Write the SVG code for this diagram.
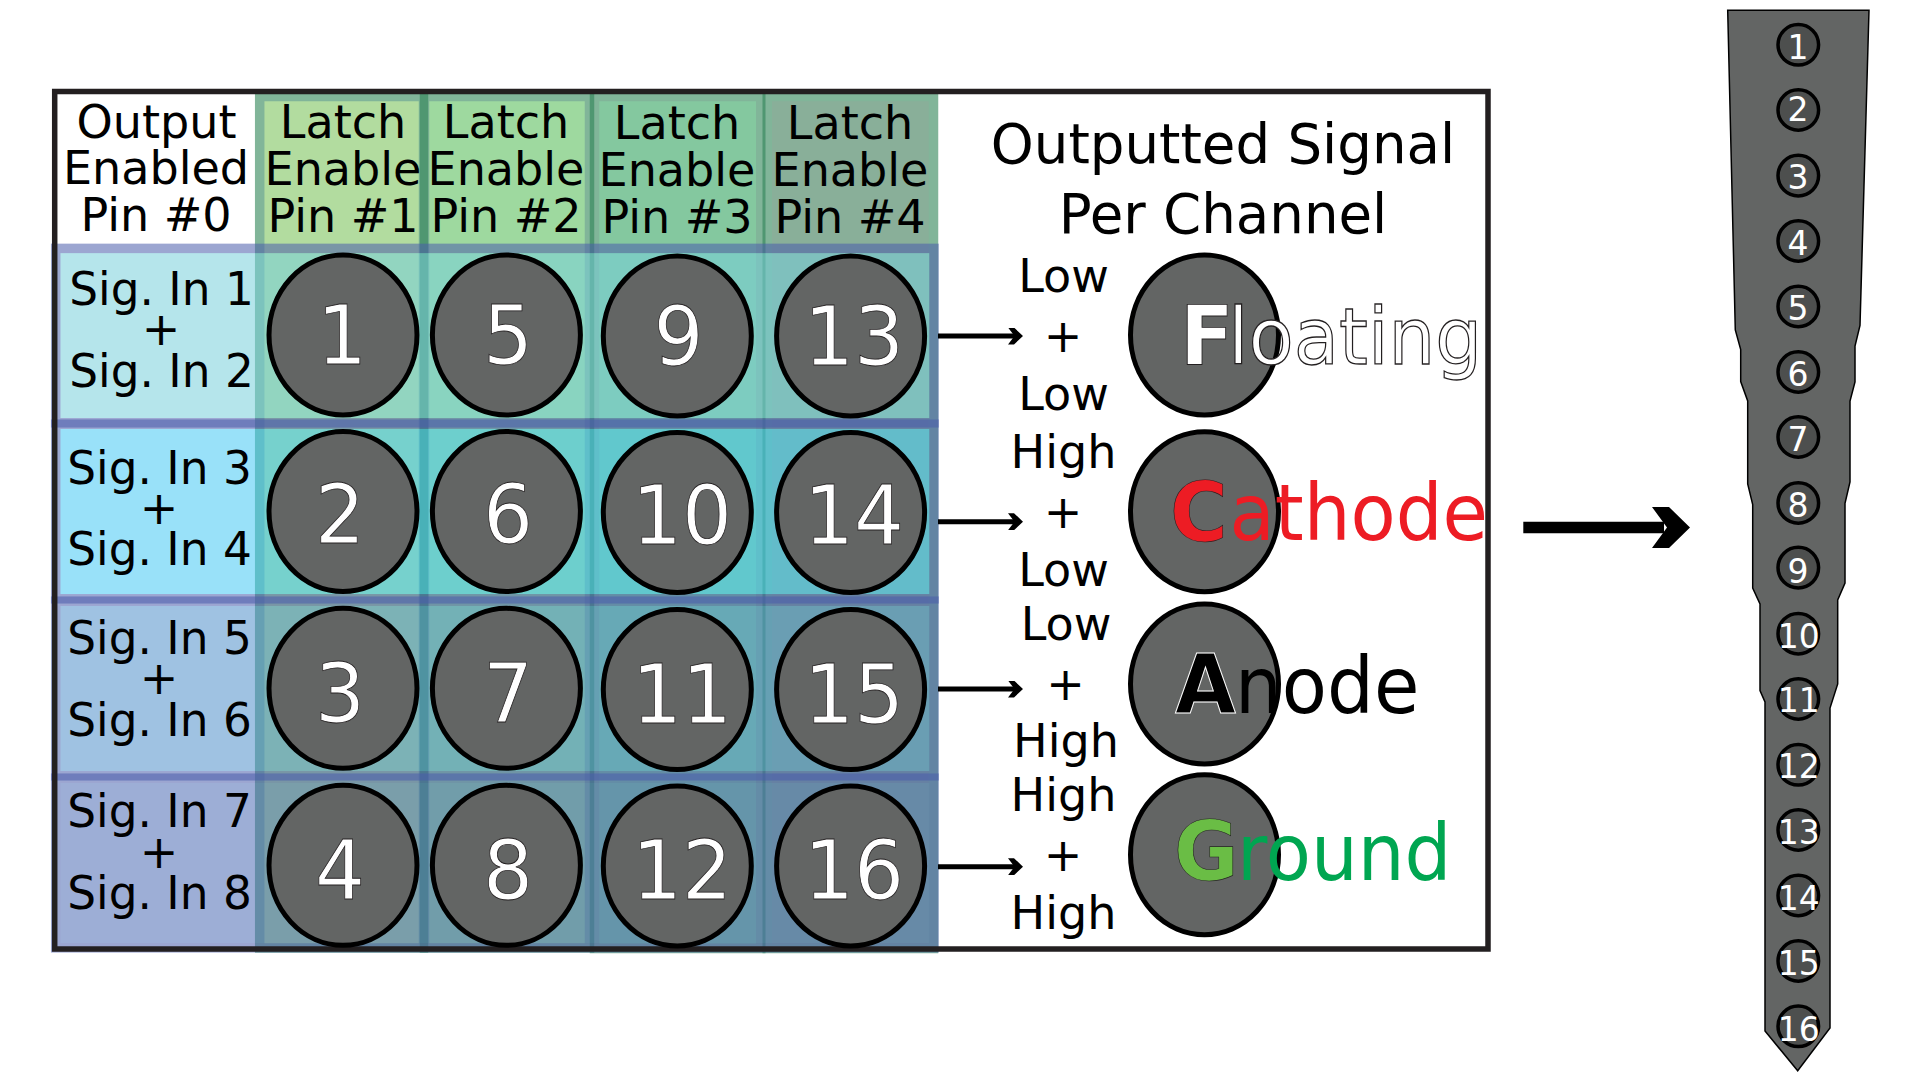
<svg xmlns="http://www.w3.org/2000/svg" width="1920" height="1080" viewBox="0 0 1920 1080">
<style>
text{font-family:"DejaVu Sans",sans-serif;text-anchor:middle;fill:#000}
.h{font-size:47px}
.t{font-size:54.6px}
.col{stroke:#2f8457;stroke-width:9.5;opacity:.6}
.row{stroke:#4a5cac;stroke-width:9.5;opacity:.54}
.e{fill:#636564;stroke:#000;stroke-width:5}
.n{font-size:82px;fill:#fff;stroke:#231f20;stroke-width:.8}
.pin{fill:#4d4f4e;stroke:#000;stroke-width:3.5}
.pn{font-size:33px;fill:#fff}
.b{font-size:82px;font-weight:bold;text-anchor:start}
.r{font-size:79px;text-anchor:start}
.ln{stroke:#000;fill:none}
</style>
<defs>
<marker id="ah" markerUnits="userSpaceOnUse" markerWidth="15" markerHeight="17" viewBox="0 0 15 17" refX="10" refY="8.5" orient="auto"><path d="M0,0H6L15,8.5L6,17H0L6.5,8.5Z" fill="#000"/></marker>
<marker id="bh" markerUnits="userSpaceOnUse" markerWidth="38" markerHeight="41" viewBox="0 0 38 41" refX="12" refY="20.5" orient="auto"><path d="M0,0H17L38,20.5L17,41H0L15,20.5Z" fill="#000"/></marker>
</defs>
<rect width="1920" height="1080" fill="#fff"/>
<rect x="54.7" y="91.5" width="1433.3" height="857.5" fill="#fff"/>
<g id="columns">
<rect class="col" x="259.7" y="96.5" width="163.8" height="851.5" fill="#80c661"/>
<rect class="col" x="424.5" y="96.5" width="165" height="851.5" fill="#5fc061"/>
<rect class="col" x="594.5" y="96.5" width="166.25" height="852" fill="#34a561"/>
<rect class="col" x="767.25" y="96.5" width="166.25" height="852" fill="#3c7b57"/>
</g>
<g id="rows">
<rect class="row" x="55.7" y="248.4" width="878.3" height="174.4" fill="#78d0dc"/>
<rect class="row" x="55.7" y="424.2" width="878.3" height="174.6" fill="#44c8f4"/>
<rect class="row" x="55.7" y="601.2" width="878.3" height="174.6" fill="#5090ca"/>
<rect class="row" x="55.7" y="778.2" width="878.3" height="169.6" fill="#4c6bb4"/>
</g>
<rect id="frame" x="54.7" y="91.5" width="1433.3" height="857.5" fill="none" stroke="#231f20" stroke-width="5.5"/>
<g id="header-oe"><text class="h" transform="translate(156.5,138) scale(.98,1)">Output</text><text class="h" transform="translate(156,184) scale(.98,1)">Enabled</text><text class="h" transform="translate(156,231) scale(.98,1)">Pin #0</text></g>
<g id="header-le1"><text class="h" transform="translate(343,138) scale(.98,1)">Latch</text><text class="h" transform="translate(343,185) scale(.98,1)">Enable</text><text class="h" transform="translate(343,232) scale(.98,1)">Pin #1</text></g>
<g id="header-le2"><text class="h" transform="translate(506,138) scale(.98,1)">Latch</text><text class="h" transform="translate(506,185) scale(.98,1)">Enable</text><text class="h" transform="translate(506,232) scale(.98,1)">Pin #2</text></g>
<g id="header-le3"><text class="h" transform="translate(677,138.5) scale(.98,1)">Latch</text><text class="h" transform="translate(677,185.5) scale(.98,1)">Enable</text><text class="h" transform="translate(677,232.5) scale(.98,1)">Pin #3</text></g>
<g id="header-le4"><text class="h" transform="translate(850,139) scale(.98,1)">Latch</text><text class="h" transform="translate(850,185.5) scale(.98,1)">Enable</text><text class="h" transform="translate(850,232.5) scale(.98,1)">Pin #4</text></g>
<g id="row-label-1"><text class="h" transform="translate(161.5,305) scale(.966,1)">Sig. In 1</text><text class="h" transform="translate(161,345) scale(.98,1)">+</text><text class="h" transform="translate(161.5,387) scale(.966,1)">Sig. In 2</text></g>
<g id="row-label-2"><text class="h" transform="translate(159.5,484) scale(.966,1)">Sig. In 3</text><text class="h" transform="translate(159,524) scale(.98,1)">+</text><text class="h" transform="translate(159.5,565) scale(.966,1)">Sig. In 4</text></g>
<g id="row-label-3"><text class="h" transform="translate(159.5,654) scale(.966,1)">Sig. In 5</text><text class="h" transform="translate(159,694) scale(.98,1)">+</text><text class="h" transform="translate(159.5,736) scale(.966,1)">Sig. In 6</text></g>
<g id="row-label-4"><text class="h" transform="translate(159.5,827) scale(.966,1)">Sig. In 7</text><text class="h" transform="translate(159,868) scale(.98,1)">+</text><text class="h" transform="translate(159.5,909) scale(.966,1)">Sig. In 8</text></g>
<g id="cell-1"><ellipse class="e" cx="343" cy="335" rx="74" ry="80"/><text class="n" transform="translate(342,364) scale(.96,1)">1</text></g>
<g id="cell-5"><ellipse class="e" cx="506.4" cy="335" rx="74" ry="80"/><text class="n" transform="translate(508,364) scale(.96,1)">5</text></g>
<g id="cell-9"><ellipse class="e" cx="677.3" cy="336" rx="74" ry="80"/><text class="n" transform="translate(678.5,365) scale(.96,1)">9</text></g>
<g id="cell-13"><ellipse class="e" cx="850.6" cy="336" rx="74" ry="80"/><text class="n" transform="translate(854,365) scale(.96,1)">13</text></g>
<g id="cell-2"><ellipse class="e" cx="343" cy="511.5" rx="74" ry="80"/><text class="n" transform="translate(340,543) scale(.96,1)">2</text></g>
<g id="cell-6"><ellipse class="e" cx="506.4" cy="511.5" rx="74" ry="80"/><text class="n" transform="translate(508,543) scale(.96,1)">6</text></g>
<g id="cell-10"><ellipse class="e" cx="677.3" cy="512.5" rx="74" ry="80"/><text class="n" transform="translate(682,544) scale(.96,1)">10</text></g>
<g id="cell-14"><ellipse class="e" cx="850.6" cy="512.5" rx="74" ry="80"/><text class="n" transform="translate(854,544) scale(.96,1)">14</text></g>
<g id="cell-3"><ellipse class="e" cx="343" cy="688.3" rx="74" ry="80"/><text class="n" transform="translate(340,722) scale(.96,1)">3</text></g>
<g id="cell-7"><ellipse class="e" cx="506.4" cy="688.3" rx="74" ry="80"/><text class="n" transform="translate(508,722) scale(.96,1)">7</text></g>
<g id="cell-11"><ellipse class="e" cx="677.3" cy="689.5" rx="74" ry="80"/><text class="n" transform="translate(682,723) scale(.96,1)">11</text></g>
<g id="cell-15"><ellipse class="e" cx="850.6" cy="689.5" rx="74" ry="80"/><text class="n" transform="translate(854,723) scale(.96,1)">15</text></g>
<g id="cell-4"><ellipse class="e" cx="343" cy="865.3" rx="74" ry="80"/><text class="n" transform="translate(340,899) scale(.96,1)">4</text></g>
<g id="cell-8"><ellipse class="e" cx="506.4" cy="865.3" rx="74" ry="80"/><text class="n" transform="translate(508,899) scale(.96,1)">8</text></g>
<g id="cell-12"><ellipse class="e" cx="677.3" cy="866" rx="74" ry="80"/><text class="n" transform="translate(682,899) scale(.96,1)">12</text></g>
<g id="cell-16"><ellipse class="e" cx="850.6" cy="866" rx="74" ry="80"/><text class="n" transform="translate(854,899) scale(.96,1)">16</text></g>
<g id="title"><text class="t" x="1223" y="163">Outputted Signal</text><text class="t" x="1223" y="233">Per Channel</text></g>
<g id="logic-1"><text class="h" transform="translate(1063.5,292) scale(.98,1)">Low</text><text class="h" transform="translate(1063,352) scale(.98,1)">+</text><text class="h" transform="translate(1063.5,410) scale(.98,1)">Low</text></g>
<g id="logic-2"><text class="h" transform="translate(1063.5,468) scale(.98,1)">High</text><text class="h" transform="translate(1063,528) scale(.98,1)">+</text><text class="h" transform="translate(1063.5,585.7) scale(.98,1)">Low</text></g>
<g id="logic-3"><text class="h" transform="translate(1066,640) scale(.98,1)">Low</text><text class="h" transform="translate(1065.5,700) scale(.98,1)">+</text><text class="h" transform="translate(1066,757) scale(.98,1)">High</text></g>
<g id="logic-4"><text class="h" transform="translate(1063.5,811) scale(.98,1)">High</text><text class="h" transform="translate(1063,870.5) scale(.98,1)">+</text><text class="h" transform="translate(1063.5,929) scale(.98,1)">High</text></g>
<g id="output-floating"><ellipse class="e" cx="1204.5" cy="335" rx="74" ry="80"/><text class="b" transform="translate(1180,364) scale(.96,1)" style="fill:#fff" stroke="#231f20" stroke-width=".9">F</text><text class="r" transform="translate(1228,364) scale(.935,1)" style="fill:#fff" stroke="#231f20" stroke-width="1.3">loating</text></g>
<g id="output-cathode"><ellipse class="e" cx="1204.5" cy="511.7" rx="74" ry="80"/><text class="b" transform="translate(1170,541) scale(.96,1)" style="fill:#ed1c24" stroke="#231f20" stroke-width=".6">C</text><text class="r" transform="translate(1229.5,540) scale(.935,1)" style="fill:#ed1c24">athode</text></g>
<g id="output-anode"><ellipse class="e" cx="1204.5" cy="684" rx="74" ry="80"/><text class="b" transform="translate(1175,712.7) scale(.96,1)" style="fill:#000" stroke="#fff" stroke-width="1">A</text><text class="r" transform="translate(1235,712.7) scale(.935,1)" style="fill:#000">node</text></g>
<g id="output-ground"><ellipse class="e" cx="1204.5" cy="854.7" rx="74" ry="80"/><text class="b" transform="translate(1174,880) scale(.96,1)" style="fill:#6abd45" stroke="#231f20" stroke-width=".6">G</text><text class="r" transform="translate(1237,880) scale(.935,1)" style="fill:#00a651">round</text></g>
<g id="connectors">
<line class="ln" x1="938" y1="336" x2="1018" y2="336" stroke-width="5" marker-end="url(#ah)"/>
<line class="ln" x1="938" y1="521.7" x2="1018" y2="521.7" stroke-width="5" marker-end="url(#ah)"/>
<line class="ln" x1="938" y1="689" x2="1018" y2="689" stroke-width="5" marker-end="url(#ah)"/>
<line class="ln" x1="938" y1="866.7" x2="1018" y2="866.7" stroke-width="5" marker-end="url(#ah)"/>
<line class="ln" x1="1523.3" y1="527.5" x2="1664" y2="527.5" stroke-width="11.6" marker-end="url(#bh)"/>
</g>
<g id="probe">
<polygon points="1727.7,10.3 1869,10.3 1860,325.4 1855,346 1855,382 1850,401 1850,482 1845,503.4 1845,583 1837.7,600 1837.7,684 1830,708 1830,1028 1797.7,1070.7 1765,1031 1765,702 1760,690.5 1760,604 1752.7,588 1752.7,504.5 1747.7,484 1747.7,401 1740.7,381.5 1740.7,349.5 1735.3,330" fill="#636564" stroke="#000" stroke-width="1.5"/>
<g id="pin-1"><circle class="pin" cx="1798.3" cy="44.8" r="20.3"/><text class="pn" x="1798" y="58.5">1</text></g>
<g id="pin-2"><circle class="pin" cx="1798.3" cy="110" r="20.3"/><text class="pn" x="1798" y="120.5">2</text></g>
<g id="pin-3"><circle class="pin" cx="1798.3" cy="175.6" r="20.3"/><text class="pn" x="1798" y="188.7">3</text></g>
<g id="pin-4"><circle class="pin" cx="1798.3" cy="241" r="20.3"/><text class="pn" x="1798" y="254.8">4</text></g>
<g id="pin-5"><circle class="pin" cx="1798.3" cy="306.5" r="20.3"/><text class="pn" x="1798" y="320.2">5</text></g>
<g id="pin-6"><circle class="pin" cx="1798.3" cy="372" r="20.3"/><text class="pn" x="1798" y="385.7">6</text></g>
<g id="pin-7"><circle class="pin" cx="1798.3" cy="437" r="20.3"/><text class="pn" x="1798" y="451">7</text></g>
<g id="pin-8"><circle class="pin" cx="1798.3" cy="503" r="20.3"/><text class="pn" x="1798" y="516.5">8</text></g>
<g id="pin-9"><circle class="pin" cx="1798.3" cy="567.6" r="20.3"/><text class="pn" x="1798" y="583">9</text></g>
<g id="pin-10"><circle class="pin" cx="1798.3" cy="633.7" r="20.3"/><text class="pn" x="1798.7" y="647.5">10</text></g>
<g id="pin-11"><circle class="pin" cx="1798.3" cy="699" r="20.3"/><text class="pn" x="1798.7" y="712.4">11</text></g>
<g id="pin-12"><circle class="pin" cx="1798.3" cy="764.8" r="20.3"/><text class="pn" x="1798.7" y="778">12</text></g>
<g id="pin-13"><circle class="pin" cx="1798.3" cy="830" r="20.3"/><text class="pn" x="1798.7" y="844">13</text></g>
<g id="pin-14"><circle class="pin" cx="1798.3" cy="895.5" r="20.3"/><text class="pn" x="1798.7" y="909.6">14</text></g>
<g id="pin-15"><circle class="pin" cx="1798.3" cy="961" r="20.3"/><text class="pn" x="1798.7" y="975">15</text></g>
<g id="pin-16"><circle class="pin" cx="1798.3" cy="1026.3" r="20.3"/><text class="pn" x="1798.7" y="1040.7">16</text></g>
</g>
</svg>
